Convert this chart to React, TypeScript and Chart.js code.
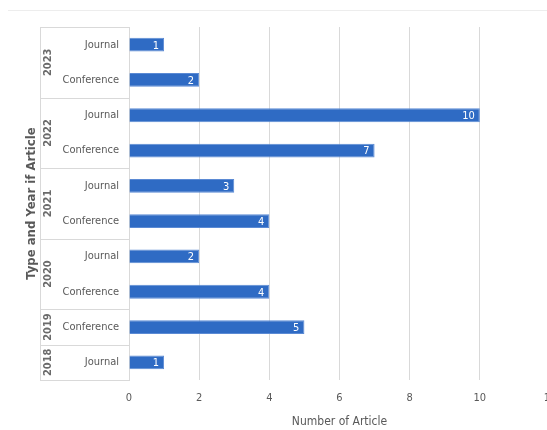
import React, { useEffect, useRef } from "react";
import { Chart, registerables } from "chart.js";

Chart.register(...registerables);

// Rows from top to bottom
const types = ["Journal", "Conference", "Journal", "Conference", "Journal", "Conference", "Journal", "Conference", "Conference", "Journal"];
const years = ["2023", "2023", "2022", "2022", "2021", "2021", "2020", "2020", "2019", "2018"];
const counts = [1, 2, 10, 7, 3, 4, 2, 4, 5, 1];
const xTicks = [0, 2, 4, 6, 8, 10, 12];

const FONT = "'Liberation Sans Narrow', 'DejaVu Sans Condensed', 'Liberation Sans', sans-serif";
const TEXT = "#595959";
const GRID = "#d9d9d9";
const BAR = "#2f6bc4";

// Draws the year column, its box lines and the value labels inside the bars
const groupPlugin = {
  id: "groupPlugin",
  beforeDraw(chart: any) {
    const { ctx, width } = chart;
    ctx.save();
    ctx.strokeStyle = "#ededed";
    ctx.lineWidth = 1;
    ctx.beginPath();
    ctx.moveTo(8, 10.5);
    ctx.lineTo(width, 10.5);
    ctx.stroke();
    ctx.restore();
  },
  afterDraw(chart: any) {
    const { ctx, chartArea } = chart;
    const y = chart.scales.y;
    const boxLeft = 40;
    const right = chartArea.left;
    ctx.save();
    ctx.strokeStyle = GRID;
    ctx.lineWidth = 1;
    const hline = (py: number) => {
      ctx.beginPath();
      ctx.moveTo(boxLeft, Math.round(py) + 0.5);
      ctx.lineTo(right, Math.round(py) + 0.5);
      ctx.stroke();
    };
    hline(chartArea.top);
    hline(chartArea.bottom);
    ctx.beginPath();
    ctx.moveTo(boxLeft + 0.5, chartArea.top);
    ctx.lineTo(boxLeft + 0.5, chartArea.bottom);
    ctx.stroke();

    // group separators and year labels
    let start = 0;
    for (let i = 1; i <= years.length; i++) {
      if (i === years.length || years[i] !== years[start]) {
        if (i < years.length) {
          hline((y.getPixelForValue(i - 1) + y.getPixelForValue(i)) / 2);
        }
        const cy = (y.getPixelForValue(start) + y.getPixelForValue(i - 1)) / 2;
        ctx.save();
        ctx.translate(48, cy);
        ctx.rotate(-Math.PI / 2);
        ctx.fillStyle = "#6a6a6a";
        ctx.font = `bold 11px ${FONT}`;
        ctx.textAlign = "center";
        ctx.textBaseline = "middle";
        ctx.fillText(years[start], 0, 0);
        ctx.restore();
        start = i;
      }
    }

    // value labels
    const meta = chart.getDatasetMeta(0);
    ctx.fillStyle = "#ffffff";
    ctx.font = `11px ${FONT}`;
    ctx.textAlign = "right";
    ctx.textBaseline = "middle";
    meta.data.forEach((bar: any, i: number) => {
      ctx.fillText(String(counts[i]), bar.x - 5, bar.y + 1);
    });
    ctx.restore();
  },
};

export default function App() {
  const canvasRef = useRef<HTMLCanvasElement | null>(null);

  useEffect(() => {
    if (!canvasRef.current) return;
    const chart = new Chart(canvasRef.current, {
      type: "bar",
      data: {
        labels: types,
        datasets: [
          {
            data: counts,
            backgroundColor: BAR,
            borderColor: "#5b8ad4",
            borderWidth: 1,
            barPercentage: 0.39,
            categoryPercentage: 1,
          },
        ],
      },
      options: {
        indexAxis: "y",
        animation: false,
        responsive: false,
        layout: { padding: { top: 27, right: 20, left: 0, bottom: 0 } },
        plugins: { legend: { display: false }, tooltip: { enabled: false } },
        scales: {
          x: {
            min: 0,
            max: 12,
            afterBuildTicks: (scale: any) => {
              scale.ticks = xTicks.map((v) => ({ value: v }));
            },
            afterFit: (scale: any) => {
              scale.height = 50;
            },
            grid: { color: GRID, drawTicks: false },
            border: { display: false },
            ticks: { color: TEXT, font: { family: FONT, size: 11 }, padding: 12 },
            title: {
              display: true,
              text: "Number of Article",
              color: TEXT,
              font: { family: FONT, size: 12 },
              padding: { top: 0, bottom: 1 },
            },
          },
          y: {
            afterFit: (scale: any) => {
              scale.width = 129;
            },
            grid: { display: false, drawTicks: false },
            border: { display: true, color: GRID },
            ticks: { color: TEXT, font: { family: FONT, size: 11 }, padding: 10 },
            title: {
              display: true,
              text: "Type and Year if Article",
              color: TEXT,
              font: { family: FONT, size: 13, weight: "bold" },
              padding: { top: 24, bottom: 0 },
            },
          },
        },
      },
      plugins: [groupPlugin],
    });
    return () => chart.destroy();
  }, []);

  return (
    <div style={{ position: "absolute", left: 0, top: 0, width: 547, height: 430, overflow: "hidden", background: "#fff" }}>
      <canvas ref={canvasRef} width={570} height={430} style={{ display: "block" }} />
    </div>
  );
}
